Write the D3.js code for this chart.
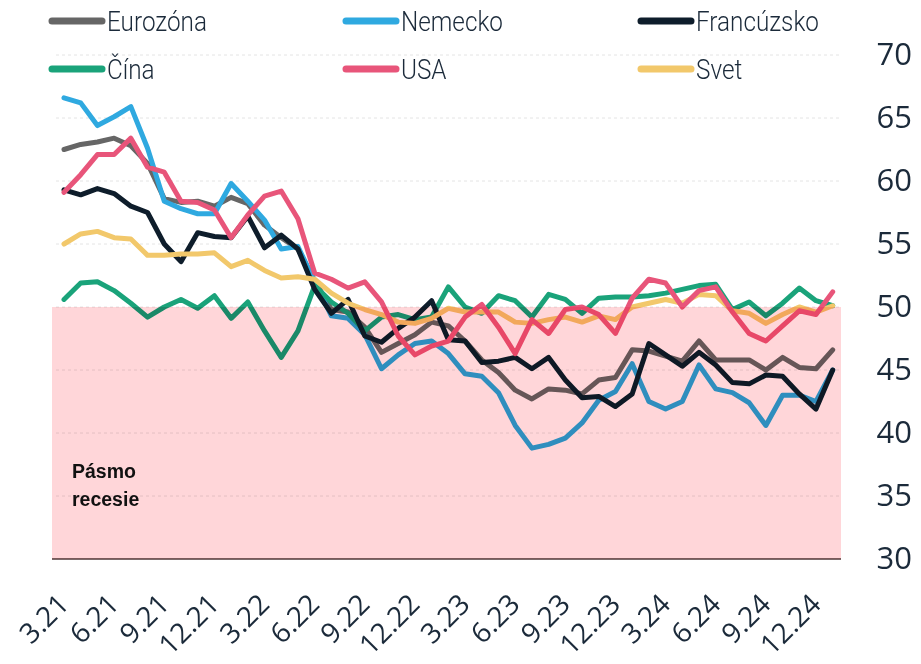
<!DOCTYPE html>
<html><head><meta charset="utf-8">
<script src="https://cdn.jsdelivr.net/npm/d3@7"></script>
<style>
html,body{margin:0;padding:0;background:#fff;}
svg{display:block;}
</style></head>
<body>
<svg id="chart" width="921" height="664"></svg>
<script>
// ---- data ----
const months = ["3.21","4.21","5.21","6.21","7.21","8.21","9.21","10.21","11.21","12.21",
  "1.22","2.22","3.22","4.22","5.22","6.22","7.22","8.22","9.22","10.22","11.22","12.22",
  "1.23","2.23","3.23","4.23","5.23","6.23","7.23","8.23","9.23","10.23","11.23","12.23",
  "1.24","2.24","3.24","4.24","5.24","6.24","7.24","8.24","9.24","10.24","11.24","12.24","1.25"];
const tickLabels = ["3.21","6.21","9.21","12.21","3.22","6.22","9.22","12.22","3.23","6.23","9.23","12.23","3.24","6.24","9.24","12.24"];
const yTicks = [30,35,40,45,50,55,60,65,70];
const seriesNames = ["Eurozóna","Nemecko","Francúzsko","Čína","USA","Svet"];
const eurozona = [62.5,62.9,63.1,63.4,62.8,61.4,58.6,58.3,58.4,58.0,58.7,58.2,56.5,55.5,54.6,52.1,49.8,49.6,48.4,46.4,47.1,47.8,48.8,48.5,47.3,45.8,44.8,43.4,42.7,43.5,43.4,43.1,44.2,44.4,46.6,46.5,46.1,45.7,47.3,45.8,45.8,45.8,45.0,46.0,45.2,45.1,46.6];
const nemecko = [66.6,66.2,64.4,65.1,65.9,62.6,58.4,57.8,57.4,57.4,59.8,58.4,56.9,54.6,54.8,52.0,49.3,49.1,47.8,45.1,46.2,47.1,47.3,46.3,44.7,44.5,43.2,40.6,38.8,39.1,39.6,40.8,42.6,43.3,45.5,42.5,41.9,42.5,45.4,43.5,43.2,42.4,40.6,43.0,43.0,42.5,45.0];
const francuzsko = [59.3,58.9,59.4,59.0,58.0,57.5,55.0,53.6,55.9,55.6,55.5,57.2,54.7,55.7,54.6,51.4,49.5,50.6,47.7,47.2,48.3,49.2,50.5,47.4,47.3,45.6,45.7,46.0,45.1,46.0,44.2,42.8,42.9,42.1,43.1,47.1,46.2,45.3,46.4,45.4,44.0,43.9,44.6,44.5,43.1,41.9,45.0];
const cina = [50.6,51.9,52.0,51.3,50.3,49.2,50.0,50.6,49.9,50.9,49.1,50.4,48.1,46.0,48.1,51.7,50.4,49.5,48.1,49.2,49.4,49.0,49.2,51.6,50.0,49.5,50.9,50.5,49.2,51.0,50.6,49.5,50.7,50.8,50.8,50.9,51.1,51.4,51.7,51.8,49.8,50.4,49.3,50.3,51.5,50.5,50.1];
const usa = [59.1,60.5,62.1,62.1,63.4,61.1,60.7,58.4,58.3,57.7,55.5,57.3,58.8,59.2,57.0,52.7,52.2,51.5,52.0,50.4,47.7,46.2,46.9,47.3,49.2,50.2,48.4,46.3,49.0,47.9,49.8,50.0,49.4,47.9,50.7,52.2,51.9,50.0,51.3,51.6,49.6,47.9,47.3,48.5,49.7,49.4,51.2];
const svet = [55.0,55.8,56.0,55.5,55.4,54.1,54.1,54.2,54.2,54.3,53.2,53.7,52.9,52.3,52.4,52.2,51.1,50.3,49.8,49.4,48.8,48.7,49.1,49.9,49.6,49.6,49.6,48.8,48.7,49.0,49.2,48.8,49.3,49.0,50.0,50.3,50.6,50.3,51.0,50.9,49.7,49.5,48.7,49.4,50.0,49.6,50.1];
const colors = ["#666666","#2fa9e0","#0e1d2b","#1aa37a","#e8557a","#f2c86b"];
const recessionLevel = 50;

const series = [
  {name: seriesNames[0], values: eurozona, color: colors[0]},
  {name: seriesNames[1], values: nemecko, color: colors[1]},
  {name: seriesNames[2], values: francuzsko, color: colors[2]},
  {name: seriesNames[3], values: cina, color: colors[3]},
  {name: seriesNames[4], values: usa, color: colors[4]},
  {name: seriesNames[5], values: svet, color: colors[5]}
];
const drawOrder = [0,1,3,2,5,4];

// ---- layout ----
const svg = d3.select("#chart");
const plotLeft = 52, plotRight = 841;
const x = d3.scalePoint().domain(months).range([64, 832.7]);
const y = d3.scaleLinear().domain([30, 70]).range([559, 55]);
const textColor = "#1b2a3a";

// gridlines
svg.append("g").selectAll("line").data(yTicks.filter(d => d > 30)).join("line")
  .attr("x1", 56).attr("x2", plotRight - 1)
  .attr("y1", d => y(d)).attr("y2", d => y(d))
  .attr("stroke", "#e4e4e4").attr("stroke-width", 1).attr("stroke-dasharray", "3,3");

// bottom axis line
svg.append("line").attr("x1", plotLeft).attr("x2", plotRight)
  .attr("y1", y(30)).attr("y2", y(30)).attr("stroke", "#7a6a6a").attr("stroke-width", 2);

// lines
const line = d3.line().x((d, i) => x(months[i])).y(d => y(d));
svg.append("g").selectAll("path").data(drawOrder.map(i => series[i])).join("path")
  .attr("d", d => line(d.values))
  .attr("fill", "none").attr("stroke", d => d.color)
  .attr("stroke-width", 5).attr("stroke-linejoin", "round").attr("stroke-linecap", "round");

// recession band (multiply)
svg.append("rect")
  .attr("x", plotLeft).attr("width", plotRight - plotLeft)
  .attr("y", y(recessionLevel)).attr("height", y(30) - y(recessionLevel))
  .attr("fill", "#ffd6d9").style("mix-blend-mode", "multiply");

svg.append("text").attr("x", 72).attr("y", 478)
  .attr("font-family", "Liberation Sans, Arial, sans-serif").attr("font-weight", "bold")
  .attr("font-size", 19.5).attr("fill", "#111").text("Pásmo");
svg.append("text").attr("x", 72).attr("y", 506)
  .attr("font-family", "Liberation Sans, Arial, sans-serif").attr("font-weight", "bold")
  .attr("font-size", 19.5).attr("fill", "#111").text("recesie");

// y axis (right)
const yAxis = d3.axisRight(y).tickValues(yTicks).tickSize(0).tickFormat(d3.format("d"));
const gy = svg.append("g").attr("transform", `translate(${plotRight},0)`).call(yAxis);
gy.select(".domain").remove();
gy.selectAll("text").attr("x", 912 - plotRight).attr("text-anchor", "end")
  .attr("font-family", "Open Sans, sans-serif").attr("font-size", 31).attr("fill", textColor);

// x axis
const xAxis = d3.axisBottom(x).tickValues(tickLabels).tickSize(0);
const gx = svg.append("g").attr("transform", `translate(0,${y(30)})`).call(xAxis);
gx.select(".domain").remove();
gx.selectAll("text").attr("x", 0).attr("y", 0).attr("dy", 0)
  .attr("transform", "translate(6,47) rotate(-45)").attr("text-anchor", "end")
  .attr("font-family", "Open Sans, sans-serif").attr("font-size", 28).attr("fill", textColor);

// legend
const legendCols = [49, 343, 638];
const legendRows = [21, 69];
const lg = svg.append("g");
series.forEach((s, i) => {
  const cx = legendCols[i % 3], cy = legendRows[Math.floor(i / 3)];
  lg.append("line").attr("x1", cx + 3).attr("x2", cx + 53).attr("y1", cy).attr("y2", cy)
    .attr("stroke", s.color).attr("stroke-width", 7).attr("stroke-linecap", "round");
  lg.append("text").attr("transform", `translate(${cx + 58},${cy + 10}) scale(0.9,1)`)
    .attr("font-family", "Roboto, sans-serif").attr("font-weight", 300)
    .attr("font-size", 27).attr("fill", textColor).text(s.name);
});
</script>
</body></html>
